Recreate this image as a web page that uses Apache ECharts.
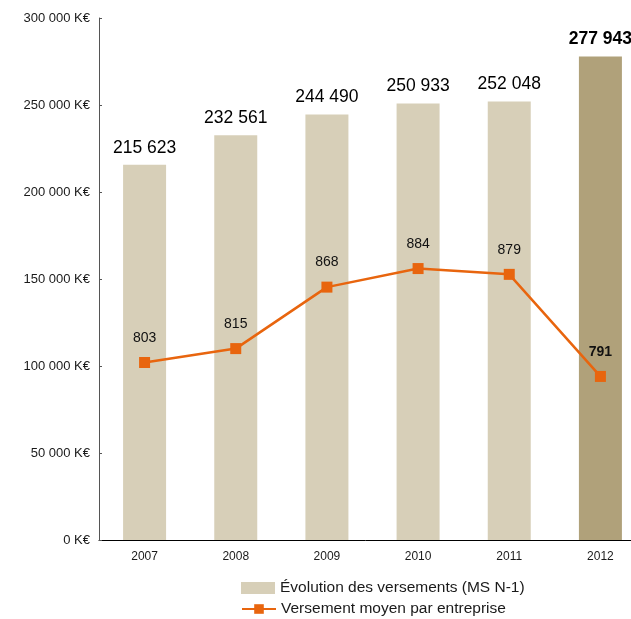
<!DOCTYPE html>
<html><head><meta charset="utf-8">
<script src="https://cdn.jsdelivr.net/npm/echarts@6/dist/echarts.min.js"></script>
<style>html,body{margin:0;padding:0;background:#fff}#c{width:631px;height:619px}</style>
</head><body><div id="c"></div>
<script>
var categories = ['2007','2008','2009','2010','2011','2012'];
var versements = [215623, 232561, 244490, 250933, 252048, 277943];
var moyenParEntreprise = [803, 815, 868, 884, 879, 791];
var barName = 'Évolution des versements (MS N-1)';
var lineName = 'Versement moyen par entreprise';

function fmt(n){ return String(n).replace(/\B(?=(\d{3})+(?!\d))/g, ' '); }

var lastIdx = categories.length - 1;
var barData = versements.map(function(v,i){
  var d = {value: v};
  if (i === lastIdx) {
    d.itemStyle = {color: '#B0A17A'};
    d.label = {fontWeight: 'bold'};
  }
  return d;
});
var lineData = moyenParEntreprise.map(function(v,i){
  var d = {value: v};
  if (i === lastIdx) d.label = {fontWeight: 'bold'};
  return d;
});

var legendText = {fontSize: 15.5, color: '#1a1a1a'};
var chart = echarts.init(document.getElementById('c'), null, {renderer:'canvas'});
chart.setOption({
  animation: false,
  textStyle: {fontFamily: 'Liberation Sans, Arial, sans-serif'},
  grid: {left: 99, top: 18, right: -15, bottom: 79, containLabel: false, outerBoundsMode: 'none'},
  legend: [{
    left: 241, top: 580, padding: 0, itemGap: 5,
    itemWidth: 34, itemHeight: 12,
    textStyle: legendText,
    data: [{name: barName, icon: 'rect'}]
  }, {
    left: 241, top: 601, padding: 0,
    itemWidth: 34, itemHeight: 12,
    textStyle: legendText,
    data: [{name: lineName}]
  }],
  xAxis: {
    type: 'category', data: categories,
    axisLine: {lineStyle: {color: '#000', width: 1}},
    axisTick: {inside: true, length: 3, lineStyle: {color: '#000'}},
    axisLabel: {fontSize: 12, color: '#1a1a1a', margin: 11}
  },
  yAxis: [{
    type: 'value', min: 0, max: 300000, interval: 50000,
    axisLine: {show: true, lineStyle: {color: '#555'}},
    axisTick: {show: true, inside: true, length: 3, lineStyle: {color: '#555'}},
    splitLine: {show: false},
    axisLabel: {fontSize: 13, color: '#1a1a1a', margin: 9, formatter: function(v){ return fmt(v) + ' K€'; }}
  }, {
    type: 'value', min: 650, max: 1100, show: false, splitLine: {show: false}
  }],
  series: [{
    name: barName, type: 'bar', data: barData, barWidth: 43,
    itemStyle: {color: '#D7CFB8'},
    label: {show: true, position: 'top', distance: 8, fontSize: 17.5, color: '#000',
      formatter: function(p){ return fmt(p.value); }}
  }, {
    name: lineName, type: 'line', yAxisIndex: 1, data: lineData,
    symbol: 'rect', symbolSize: 11,
    lineStyle: {color: '#E8650E', width: 2.5},
    itemStyle: {color: '#E8650E'},
    label: {show: true, position: 'top', distance: 12, fontSize: 14, color: '#111'}
  }]
});
</script></body></html>
